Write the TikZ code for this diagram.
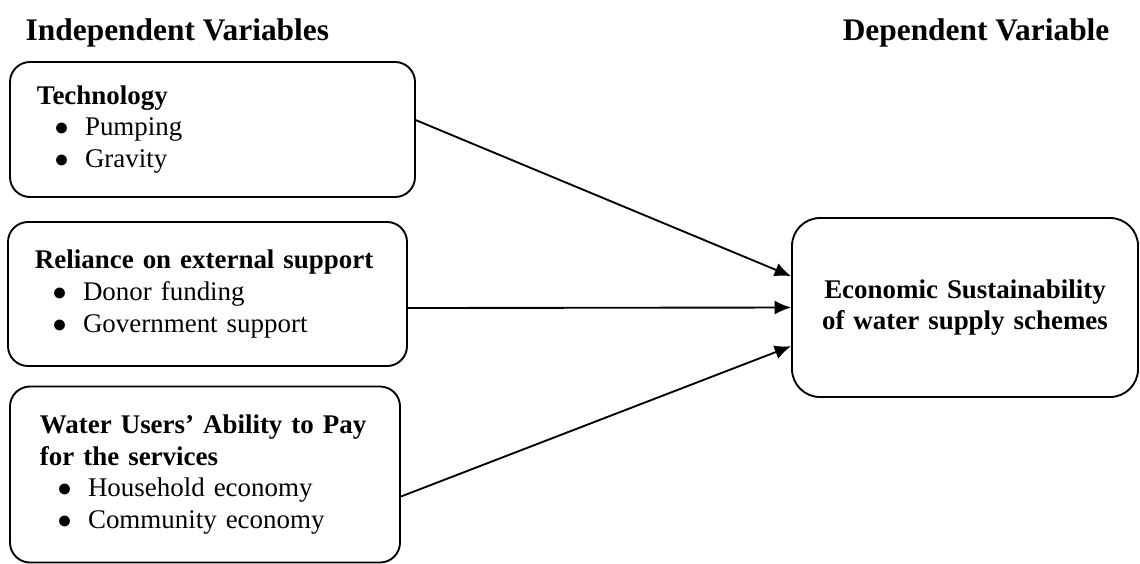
\documentclass[tikz,border=0pt]{standalone}
\usepackage{fontspec}
\setmainfont{Liberation Serif}
\usetikzlibrary{arrows.meta}
\newcommand{\itm}[1]{\hspace*{7.5pt}\makebox[13pt][l]{$\bullet$}#1}

\begin{document}
\begin{tikzpicture}[x=0.015cm, y=-0.015cm, thick,
    box/.style={draw, rounded corners=0.3cm, align=left, inner xsep=0.405cm,
      font=\fontsize{11.5}{13.6}\selectfont},
    link/.style={-{Latex[length=7pt,width=6pt]}},
    heading/.style={font=\fontsize{13.4}{16}\selectfont\bfseries, anchor=base west}]
\useasboundingbox (0,0) rectangle (1140,563);
% headings
\node[heading] (indep) at (17,40) {Independent Variables};
\node[heading] (depvar) at (834,40) {Dependent Variable};
% independent variables
\node[box, text width=5.265cm, minimum height=2.025cm] (tech) at (212.5,129.5)
  {\textbf{Technology}\\\itm{Pumping}\\\itm{Gravity}};
\node[box, text width=5.175cm, minimum height=2.16cm] (reli) at (207.5,294)
  {\textbf{Reliance on external support}\\\itm{Donor funding}\\\itm{Government support}\\[4pt]};
\node[box, inner xsep=0.45cm, text width=4.95cm, minimum height=2.64cm] (pay) at (205,474.5)
  {\textbf{Water Users’ Ability to Pay}\\\textbf{for the services}\\\itm{Household economy}\\\itm{Community economy}};
% dependent variable
\node[box, rounded corners=0.42cm, align=center, inner xsep=0.2cm, text width=4.6cm,
  minimum width=5.19cm, minimum height=2.685cm, font=\fontsize{11.5}{13.6}\selectfont\bfseries] (dep) at (965,307.5)
  {Economic Sustainability\\of water supply schemes};
% links
\draw[link] ([yshift=0.14cm]tech.east) -- ([yshift=0.47cm]dep.west);
\draw[link] ([yshift=-0.21cm]reli.east) -- (dep.west);
\draw[link] ([yshift=-0.33cm]pay.east) -- ([yshift=-0.58cm]dep.west);
\end{tikzpicture}
\end{document}
